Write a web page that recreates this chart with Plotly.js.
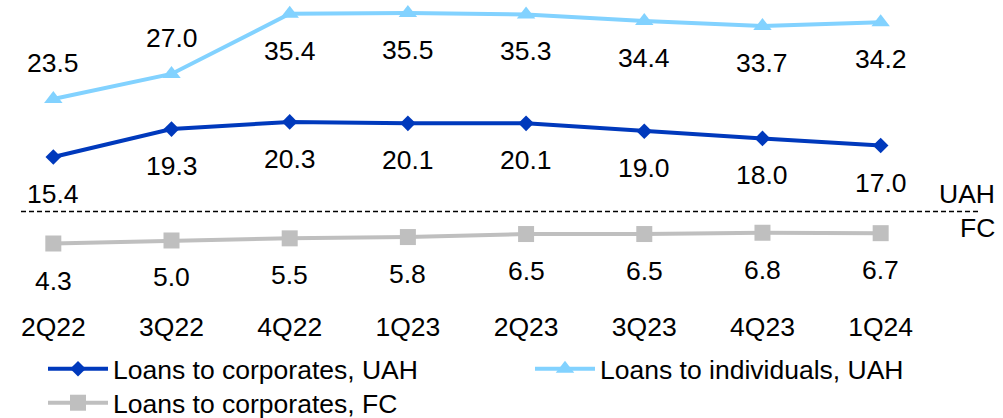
<!DOCTYPE html>
<html>
<head>
<meta charset="utf-8">
<script src="https://cdn.plot.ly/plotly-3.0.1.min.js"></script>
<style>
  html, body { margin: 0; padding: 0; background: #fff; }
  #chart { width: 1003px; height: 418px; }
</style>
</head>
<body>
<div id="chart"></div>
<script>
// ---- data ----
const quarters = ["2Q22", "3Q22", "4Q22", "1Q23", "2Q23", "3Q23", "4Q23", "1Q24"];
const corporatesUAH = [15.4, 19.3, 20.3, 20.1, 20.1, 19.0, 18.0, 17.0];
const individualsUAH = [23.5, 27.0, 35.4, 35.5, 35.3, 34.4, 33.7, 34.2];
const corporatesFC = [4.3, 5.0, 5.5, 5.8, 6.5, 6.5, 6.8, 6.7];
// label placement: true = above the point, false = below
const individualsAbove = [true, true, false, false, false, false, false, false];

const FONT = "Liberation Sans, Arial, sans-serif";
const FS = 26.5;
const PLOT_H = 300;

const traces = [
  {
    x: quarters, y: corporatesUAH, name: "Loans to corporates, UAH",
    type: "scatter", mode: "lines+markers", yaxis: "y", legend: "legend",
    line: { color: "#0039BC", width: 4 },
    marker: { symbol: "diamond", size: 12, color: "#0039BC" }
  },
  {
    x: quarters, y: individualsUAH, name: "Loans to individuals, UAH",
    type: "scatter", mode: "lines+markers", yaxis: "y", legend: "legend2",
    line: { color: "#82D2FF", width: 4 },
    marker: { symbol: "triangle-up", size: 16, color: "#82D2FF" }
  },
  {
    x: quarters, y: corporatesFC, name: "Loans to corporates, FC",
    type: "scatter", mode: "lines+markers", yaxis: "y2", legend: "legend3",
    line: { color: "#BFBFBF", width: 4 },
    marker: { symbol: "square", size: 16, color: "#BFBFBF" }
  }
];

const annotations = [];
function addLabels(vals, yref, aboveArr) {
  vals.forEach((v, i) => {
    const above = aboveArr ? aboveArr[i] : false;
    annotations.push({
      x: quarters[i], y: v, xref: "x", yref: yref,
      text: v.toFixed(1), showarrow: false,
      yshift: above ? 36 : -37,
      font: { family: FONT, size: FS, color: "#000" }
    });
  });
}
addLabels(corporatesUAH, "y", null);
addLabels(individualsUAH, "y", individualsAbove);
addLabels(corporatesFC, "y2", null);

annotations.push({
  xref: "paper", yref: "paper", x: 0.994, y: (PLOT_H - 194) / PLOT_H,
  xanchor: "right", yanchor: "middle", text: "UAH", showarrow: false,
  font: { family: FONT, size: FS, color: "#000" }
});
annotations.push({
  xref: "paper", yref: "paper", x: 0.994, y: (PLOT_H - 228) / PLOT_H,
  xanchor: "right", yanchor: "middle", text: "FC", showarrow: false,
  font: { family: FONT, size: FS, color: "#000" }
});

function legendAt(px, py) {
  return {
    orientation: "h", x: px / 1003, xanchor: "left",
    y: (PLOT_H - py) / PLOT_H, yanchor: "middle",
    font: { family: FONT, size: FS, color: "#000" },
    itemwidth: 60,
    bgcolor: "rgba(0,0,0,0)", borderwidth: 0
  };
}

const layout = {
  width: 1003, height: 418,
  margin: { l: 0, r: 0, t: 0, b: 418 - PLOT_H, pad: 0, autoexpand: false },
  paper_bgcolor: "#fff", plot_bgcolor: "#fff",
  showlegend: true,
  font: { family: FONT, size: FS, color: "#000" },
  xaxis: {
    type: "category", range: [-0.451, 8.035],
    showgrid: false, zeroline: false, showline: false, ticks: "",
    ticklabelstandoff: 8,
    tickfont: { family: FONT, size: FS, color: "#000" },
    fixedrange: true
  },
  yaxis: { range: [-4.56, 37.32], visible: false, fixedrange: true },
  yaxis2: { range: [-8.84, 60.93], visible: false, overlaying: "y", fixedrange: true },
  shapes: [{
    type: "line", xref: "paper", yref: "paper",
    x0: 21 / 1003, x1: 981 / 1003,
    y0: (PLOT_H - 211.5) / PLOT_H, y1: (PLOT_H - 211.5) / PLOT_H,
    line: { color: "#000", width: 1.3, dash: "5px,3px" }
  }],
  annotations: annotations,
  legend: legendAt(43, 369),
  legend2: legendAt(530, 369),
  legend3: legendAt(43, 403)
};

Plotly.newPlot("chart", traces, layout, { displayModeBar: false, staticPlot: true });
</script>
</body>
</html>
